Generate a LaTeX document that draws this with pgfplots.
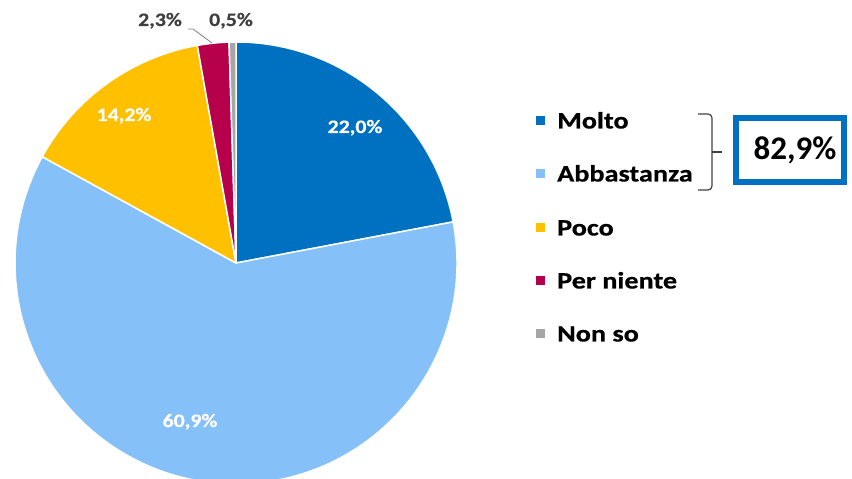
\documentclass[border=0pt]{standalone}
\usepackage{pgfplots}
\pgfplotsset{compat=1.18}
\usepackage{fontspec}
\setmainfont{Carlito}
\newfontfamily\legf[FakeStretch=1.2,FakeBold=0.6]{Carlito}
\newfontfamily\labf[FakeStretch=1.15,FakeBold=0.4]{Carlito}
\definecolor{molto}{HTML}{0070C0}
\definecolor{abba}{HTML}{85C1F8}
\definecolor{poco}{HTML}{FFC000}
\definecolor{per}{HTML}{B7004B}
\definecolor{nonso}{HTML}{A6A6A6}
\definecolor{txtgray}{HTML}{404040}
\begin{document}
\begin{tikzpicture}
\begin{axis}[at={(0,0)},anchor=south west,scale only axis,
  width=852pt,height=479pt,xmin=0,xmax=852,ymin=0,ymax=479,
  hide axis,clip=false]
% pie: values in percent, clockwise from 12 o'clock
\def\total{99.9}
\gdef\cum{0}
\foreach \v/\c in {22.0/molto,60.9/abba,14.2/poco,2.3/per,0.5/nonso}{
  \pgfmathsetmacro\a{90-(\cum/\total)*360}
  \pgfmathsetmacro\b{90-((\cum+\v)/\total)*360}
  \edef\tmp{\noexpand\fill[\c,draw=white,line width=1.5pt,line join=round]
    (axis cs:236,216) -- ++(\a:221pt) arc[start angle=\a,end angle=\b,radius=221pt] -- cycle;}
  \tmp
  \pgfmathsetmacro\n{\cum+\v}\xdef\cum{\n}
}
% slice labels
\node[anchor=base,text=white,font=\labf\bfseries\fontsize{19}{22}\selectfont] at (axis cs:355,346) {22,0\%};
\node[anchor=base,text=white,font=\labf\bfseries\fontsize{19}{22}\selectfont] at (axis cs:190,52) {60,9\%};
\node[anchor=base,text=white,font=\labf\bfseries\fontsize{19}{22}\selectfont] at (axis cs:124,358) {14,2\%};
\node[anchor=base,text=txtgray,font=\labf\bfseries\fontsize{19}{22}\selectfont] at (axis cs:160,453) {2,3\%};
\node[anchor=base,text=txtgray,font=\labf\bfseries\fontsize{19}{22}\selectfont] at (axis cs:231,453) {0,5\%};
\draw[gray,line width=0.8pt] (axis cs:188,450) -- (axis cs:193,450) -- (axis cs:212,436);
% legend
\foreach \c/\t/\y in {molto/Molto/121,abba/Abbastanza/174,poco/Poco/228,per/Per niente/281,nonso/Non so/334}{
  \edef\tmp{\noexpand\fill[\c] (axis cs:535.5,{479-\y-4.5}) rectangle (axis cs:544.5,{479-\y+4.5});
  \noexpand\node[anchor=base west,inner sep=0pt,font=\noexpand\legf\noexpand\bfseries\noexpand\fontsize{23.5}{26}\noexpand\selectfont] at (axis cs:557,{479-\y-7.5}) {\t};}
  \tmp
}
% bracket
\draw[txtgray,line width=1.2pt,rounded corners=4pt]
  (axis cs:698,365) -- (axis cs:712,365) -- (axis cs:712,289) -- (axis cs:698,289);
\draw[txtgray,line width=1.2pt] (axis cs:712,327) -- (axis cs:722,327);
% box
\draw[molto,line width=5.5pt] (axis cs:736,361) rectangle (axis cs:844,297);
\node[anchor=base,font=\bfseries\fontsize{33}{36}\selectfont] at (axis cs:795,319) {82,9\%};
\end{axis}
\pgfresetboundingbox
\path (0,0) rectangle (852pt,479pt);
\end{tikzpicture}
\end{document}
